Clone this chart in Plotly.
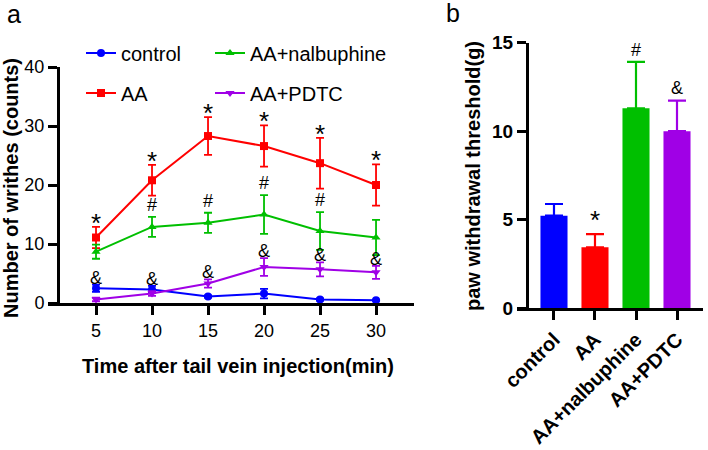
import plotly.graph_objects as go

W, H = 708, 450
FONT = "Liberation Sans, Arial, sans-serif"

# ---- panel a data ----
time_min = [5, 10, 15, 20, 25, 30]
control_mean = [2.5, 2.3, 1.1, 1.6, 0.6, 0.45]
control_sem = [0.6, 0.6, 0.2, 0.8, 0.2, 0.1]
aa_mean = [11.1, 20.8, 28.3, 26.6, 23.7, 20.0]
aa_sem = [1.8, 2.6, 3.2, 3.5, 4.3, 3.5]
nalb_mean = [8.7, 12.9, 13.6, 15.0, 12.2, 11.1]
nalb_sem = [1.2, 1.7, 1.7, 3.3, 3.2, 3.0]
pdtc_mean = [0.6, 1.6, 3.3, 6.1, 5.7, 5.2]
pdtc_sem = [0.3, 0.4, 0.7, 1.5, 1.2, 1.1]
hash_times = [10, 15, 20, 25]
a_yticks = [0, 10, 20, 30, 40]

# ---- panel b data ----
groups = ["control", "AA", "AA+nalbuphine", "AA+PDTC"]
threshold_mean = [5.22, 3.43, 11.29, 10.0]
threshold_sem = [0.66, 0.75, 2.63, 1.72]
b_marks = ["", "*", "#", "&"]
b_yticks = [0, 5, 10, 15]

colors = {"control": "#0000FF", "AA": "#FF0000",
          "AA+nalbuphine": "#00BF00", "AA+PDTC": "#A000E6"}

def px_x(p):
    return p / W

def px_y(p):
    return (H - p) / H

fig = go.Figure()

series = [
    ("control", control_mean, control_sem, "circle", "legend"),
    ("AA", aa_mean, aa_sem, "square", "legend2"),
    ("AA+nalbuphine", nalb_mean, nalb_sem, "triangle-up", "legend3"),
    ("AA+PDTC", pdtc_mean, pdtc_sem, "triangle-down", "legend4"),
]
for name, m, e, sym, leg in series:
    c = colors[name]
    fig.add_trace(go.Scatter(
        x=time_min, y=m, name=name, mode="lines+markers",
        line=dict(color=c, width=2),
        marker=dict(symbol=sym, size=8, color=c),
        error_y=dict(type="data", array=e, color=c, thickness=1.8, width=4),
        legend=leg, xaxis="x", yaxis="y", cliponaxis=False,
    ))

for i, g in enumerate(groups):
    c = colors[g]
    fig.add_trace(go.Bar(
        x=[g], y=[threshold_mean[i]], width=0.66, showlegend=False,
        marker=dict(color=c, line=dict(width=0)),
        error_y=dict(type="data", array=[threshold_sem[i]], arrayminus=[0],
                     symmetric=False, color=c, thickness=2.2, width=9),
        xaxis="x2", yaxis="y2",
    ))

annotations = []
# significance marks, panel a
for i, t in enumerate(time_min):
    annotations.append(dict(x=t, y=aa_mean[i] + aa_sem[i], xref="x", yref="y",
                            text="*", showarrow=False, xanchor="center",
                            yanchor="middle", yshift=4,
                            font=dict(size=26, color="black", family=FONT)))
    top = max(pdtc_mean[i] + pdtc_sem[i], control_mean[i] + control_sem[i])
    annotations.append(dict(x=t, y=top, xref="x", yref="y",
                            text="&", showarrow=False, xanchor="center",
                            yanchor="middle", yshift=7,
                            font=dict(size=18, color="black", family=FONT)))
for t in hash_times:
    i = time_min.index(t)
    annotations.append(dict(x=t, y=nalb_mean[i] + nalb_sem[i], xref="x", yref="y",
                            text="#", showarrow=False, xanchor="center",
                            yanchor="middle", yshift=12,
                            font=dict(size=18, color="black", family=FONT)))
# significance marks, panel b
b_shift = {"*": 14, "#": 12, "&": 13}
for i, g in enumerate(groups):
    if b_marks[i]:
        big = b_marks[i] == "*"
        annotations.append(dict(x=g, y=threshold_mean[i] + threshold_sem[i],
                                xref="x2", yref="y2", text=b_marks[i], showarrow=False,
                                xanchor="center", yanchor="middle",
                                yshift=b_shift[b_marks[i]],
                                font=dict(size=26 if big else 18, color="black", family=FONT)))

# axis titles and panel letters
title_font = dict(size=20, color="black", family=FONT, weight="bold")
annotations += [
    dict(x=px_x(11), y=px_y(188), xref="paper", yref="paper", textangle=-90,
         xanchor="center", yanchor="middle",
         text="Number of writhes (counts)", showarrow=False, font=title_font),
    dict(x=px_x(238), y=px_y(366), xref="paper", yref="paper",
         xanchor="center", yanchor="middle",
         text="Time after tail vein injection(min)", showarrow=False, font=title_font),
    dict(x=px_x(473), y=px_y(176), xref="paper", yref="paper", textangle=-90,
         xanchor="center", yanchor="middle",
         text="paw withdrawal threshold(g)", showarrow=False, font=title_font),
    dict(x=px_x(14), y=px_y(14), xref="paper", yref="paper", text="a", showarrow=False,
         xanchor="center", yanchor="middle",
         font=dict(size=25, color="black", family=FONT)),
    dict(x=px_x(453), y=px_y(13), xref="paper", yref="paper", text="b", showarrow=False,
         xanchor="center", yanchor="middle",
         font=dict(size=25, color="black", family=FONT)),
]

axis_common = dict(showline=True, linewidth=3, linecolor="black", ticks="outside",
                   ticklen=9, tickwidth=3, tickcolor="black", showgrid=False,
                   zeroline=False, automargin=False)

leg_common = dict(font=dict(size=20, color="black", family=FONT),
                  bgcolor="rgba(0,0,0,0)", yanchor="middle", xanchor="left",
                  itemclick=False, itemdoubleclick=False)

fig.update_layout(
    width=W, height=H, margin=dict(l=0, r=0, t=0, b=0),
    paper_bgcolor="white", plot_bgcolor="white",
    font=dict(family=FONT, color="black"),
    barmode="overlay", showlegend=True,
    xaxis=dict(domain=[px_x(48), px_x(414)], range=[0.714, 33.39], anchor="y",
               tickvals=time_min, tickfont=dict(size=18), **axis_common),
    yaxis=dict(domain=[px_y(303), px_y(67)], range=[0, 40], anchor="free",
               position=px_x(58), tickvals=a_yticks, tickfont=dict(size=18),
               **axis_common),
    xaxis2=dict(domain=[px_x(517), px_x(703)], range=[-0.902, 3.634], anchor="y2",
                type="category", tickangle=-45,
                tickfont=dict(size=20, weight="bold"), **axis_common),
    yaxis2=dict(domain=[px_y(308), px_y(42.7)], range=[0, 15], anchor="free",
                position=px_x(527), tickvals=b_yticks,
                tickfont=dict(size=19, weight="bold"), **axis_common),
    legend=dict(x=px_x(81), y=px_y(53), **leg_common),
    legend2=dict(x=px_x(81), y=px_y(93), **leg_common),
    legend3=dict(x=px_x(210), y=px_y(53), **leg_common),
    legend4=dict(x=px_x(210), y=px_y(93), **leg_common),
    annotations=annotations,
)

fig.write_html("out.html", config={"displayModeBar": False},
               post_script="document.body.style.margin='0';")
